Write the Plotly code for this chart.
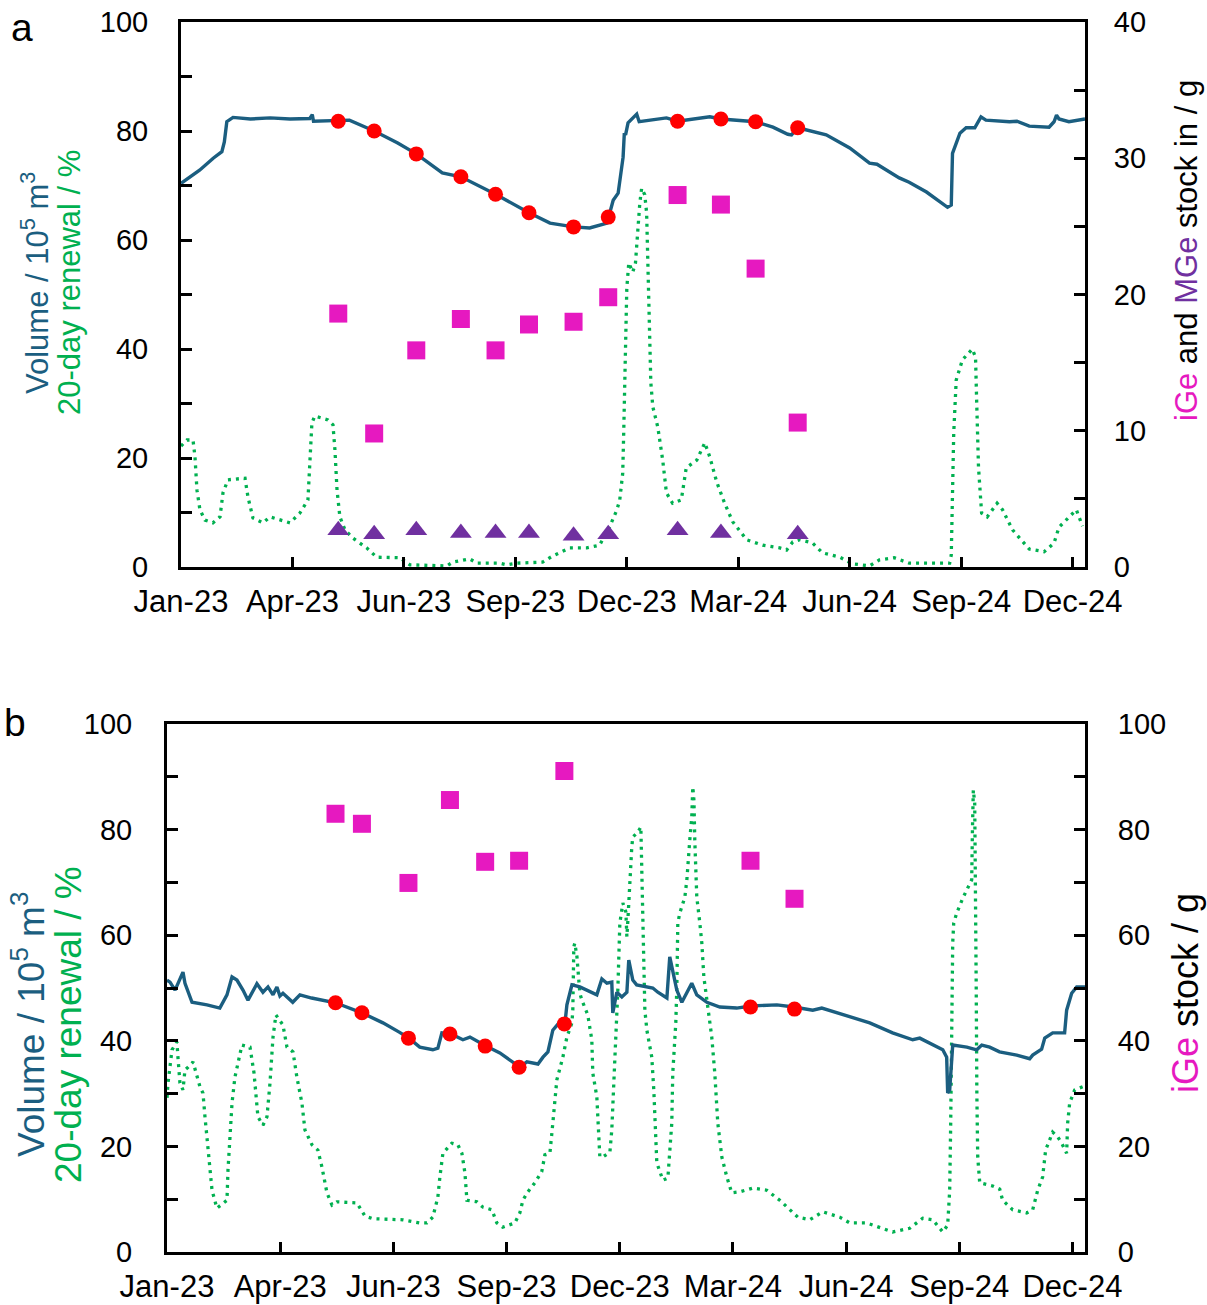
import pandas as pd
import plotly.graph_objects as go

W, H = 1207, 1305
ORIGIN = pd.Timestamp("2023-01-01")
FONT = "Liberation Sans, Arial, sans-serif"

C_VOL = "#1B5E80"
C_REN = "#00B050"
C_RED = "#FF0000"
C_IGE = "#E619C0"
C_MGE = "#7030A0"

# x-axis ticks (every 90 days from 1 Jan 2023)
TICK_DATES = ["2023-01-01", "2023-04-01", "2023-06-30", "2023-09-28", "2023-12-27",
              "2024-03-26", "2024-06-24", "2024-09-22", "2024-12-21"]
TICK_TEXT = ["Jan-23", "Apr-23", "Jun-23", "Sep-23", "Dec-23",
             "Mar-24", "Jun-24", "Sep-24", "Dec-24"]

# ---------------- panel a ----------------
# daily volume record (days since 1 Jan 2023, 10^5 m^3)
A_VOL_DAY = [0, 15, 26, 33, 35, 37, 42, 56, 72, 88, 104, 106, 107, 123, 127.5, 136,
             156, 175, 190, 211, 226, 239, 254, 281, 298, 317, 330, 344, 349, 353,
             355, 357, 358, 359, 361, 365, 368, 370, 381, 392, 401, 419, 427, 436,
             464, 478, 490, 493, 498, 521, 540, 556, 562, 580, 588, 602, 619, 622,
             623, 629, 634, 641, 646, 650, 669, 675, 685, 701, 705, 707, 709, 717, 730]
A_VOL = [70.4, 72.8, 75.0, 76.2, 78.0, 81.7, 82.5, 82.2, 82.4, 82.2, 82.3, 83.0, 81.8,
         81.9, 81.8, 82.0, 80.0, 77.8, 75.8, 72.3, 71.6, 70.1, 68.4, 65.0, 63.1, 62.4,
         62.2, 63.1, 67.3, 68.6, 71.6, 75.2, 79.6, 79.3, 81.5, 82.4, 83.1, 81.7, 82.0,
         82.4, 81.8, 82.4, 82.6, 82.2, 81.7, 80.7, 79.4, 79.3, 80.6, 79.3, 76.9, 74.1,
         73.9, 71.4, 70.6, 68.8, 66.0, 66.4, 75.9, 79.6, 80.6, 80.6, 82.6, 82.0, 81.7,
         81.8, 80.9, 80.7, 81.7, 82.9, 82.2, 81.7, 82.2]

# 20-day renewal (%)
A_REN_DAY = [0, 4.8, 9.7, 11.3, 12.9, 15.3, 19.4, 25.8, 31.5, 33.9, 37.9, 51.7, 54.1,
             58.1, 66.2, 71.8, 88, 96, 102.5, 104, 105.7, 108, 118.6, 122.7, 124.3, 126,
             128.3, 132.4, 138.8, 150, 158, 176.8, 184.8, 214.7, 219.5, 233, 239, 257.5,
             263, 271, 292, 300, 314, 327.7, 338, 346, 352, 354.3, 356.7, 357.5, 358.4,
             359, 360, 361.6, 364.8, 367, 368.8, 370.5, 372, 374.5, 376, 377, 377.7,
             379.4, 381, 385, 389, 392, 397, 404, 408, 416.5, 423, 427, 432.6, 439,
             445.5, 456.8, 469.7, 483.5, 489, 494, 499.6, 510, 518, 532, 542, 556, 564,
             576, 588, 620.7, 622, 623, 624, 626, 631, 639, 641.6, 642.5, 644, 646.5,
             651, 659, 663.4, 671.5, 685, 697, 705, 709, 715, 723, 728]
A_REN = [22.2, 23.3, 23.3, 20.2, 14.1, 10.5, 8.6, 8.1, 9.2, 13.6, 16.0, 16.3, 12.8,
         9.0, 8.1, 9.2, 8.1, 9.9, 12.3, 19.6, 26.4, 27.7, 27.0, 26.1, 21.5, 14.1,
         9.2, 6.8, 5.3, 3.5, 1.8, 1.7, 0.4, 0.2, 0.9, 1.5, 0.7, 0.7,
         0.4, 0.7, 0.9, 2.0, 3.5, 3.5, 4.0, 7.3, 10.5, 12.3, 17.2, 24.6, 36.7,
         46.6, 51.2, 55.8, 54.1, 55.8, 62.4, 66.8, 69.5, 68.3, 65.0, 55.0, 45.3,
         33.8, 29.4, 25.7, 19.6, 13.6, 11.7, 12.3, 18.2, 19.6, 22.8, 20.2, 15.6, 11.7,
         8.3, 5.0, 4.0, 3.5, 3.1, 4.6, 5.0, 4.4, 2.6, 1.8, 0.6, 0.2, 1.3,
         1.7, 0.7, 0.7, 2.2, 12.3, 24.6, 34.3, 38.0, 40.0, 38.5, 30.6, 18.3, 9.9,
         9.2, 11.7, 10.5, 6.8, 3.3, 2.8, 4.4, 7.3, 8.6, 10.5, 7.5]

# sampling campaign
A_SAMPLE_DATES = ["2023-05-08", "2023-06-06", "2023-07-10", "2023-08-15", "2023-09-12",
                  "2023-10-09", "2023-11-14", "2023-12-12", "2024-02-06", "2024-03-12",
                  "2024-04-09", "2024-05-13"]
A_SAMPLE_VOL = [81.8, 80.0, 75.8, 71.6, 68.4, 65.0, 62.4, 64.2, 81.8, 82.2, 81.7, 80.6]
A_IGE = [18.6, 9.8, 15.9, 18.2, 15.9, 17.8, 18.0, 19.8, 27.3, 26.6, 21.9, 10.6]
A_MGE = [2.7, 2.4, 2.7, 2.5, 2.5, 2.5, 2.3, 2.4, 2.7, 2.5, None, 2.4]

# ---------------- panel b ----------------
B_VOL_DAY = [0, 2.4, 6.4, 10.3, 12.7, 14.3, 19.9, 31.8, 42, 47.7, 51.7, 55.6, 60.4, 64.4,
             71.5, 76.3, 80.3, 84.3, 87.4, 89.8, 92.2, 100, 105.7, 115, 124, 134, 155,
             171.7, 185, 192.4, 201, 211.4, 215.4, 218.6, 225.8, 235.3, 240.9, 253.6,
             264.7, 280.6, 286.2, 295, 299, 302.9, 306.8, 312.4, 316.4, 318, 322, 328.3,
             341.8, 345.8, 349.8, 353.7, 354.5, 357.7, 361.7, 365.7, 367.2, 370.4, 373.5,
             386.3, 390.3, 397.5, 399.8, 405.4, 409.4, 417.3, 421.3, 429.3, 439.6, 453,
             464.2, 477, 485, 498.4, 513.5, 520.7, 535, 545.3, 558.8, 577, 588.2, 593,
             598.6, 616.9, 620, 620.8, 622.4, 624, 624.8, 636, 643.9, 647.9, 654.2, 662,
             675.7, 686, 688.4, 695.5, 698, 704.3, 713.8, 715.4, 719.4, 723.4, 730]
B_VOL = [51.5, 51.1, 49.6, 51.5, 53.0, 50.9, 47.3, 46.8, 46.2, 48.7, 52.1, 51.5, 49.6, 47.7,
         50.8, 49.2, 50.2, 48.7, 50.2, 48.5, 49.0, 47.3, 48.7, 48.1, 47.7, 47.2, 45.3,
         43.4, 41.6, 40.5, 38.8, 38.3, 38.6, 41.5, 41.3, 40.2, 40.7, 39.0,
         37.7, 35.0, 36.0, 35.6, 36.9, 37.9, 42.0, 43.6, 43.2, 46.8, 50.6, 50.2,
         48.7, 51.7, 50.9, 51.1, 45.3, 49.2, 48.3, 49.2, 55.3, 51.5, 50.6,
         50.0, 49.2, 48.1, 55.9, 49.6, 47.3, 50.9, 48.7, 47.3, 46.4, 46.2,
         46.6, 46.8, 46.8, 46.4, 45.8, 46.2, 45.1, 44.3, 43.4, 41.5, 40.7, 40.2,
         40.5, 38.3, 36.9, 30.1, 30.7, 38.3, 39.2, 38.8, 38.3, 39.2, 38.8, 37.9,
         37.3, 36.6, 37.3, 38.4, 40.5, 41.5, 41.5, 45.8, 49.0, 50.2, 50.2]

B_REN_DAY = [0, 0.8, 4, 7.9, 8.7, 10.3, 12.7, 14.3, 16.7, 20.7, 26.2, 28.6, 30.2, 32.6,
             35.8, 39.7, 47.7, 48.5, 51.7, 54, 59.6, 66, 69.2, 72.3, 76.3, 79.5, 81.9,
             84.3, 86.6, 92.2, 95.4, 100.2, 103.3, 107.3, 109.7, 115.3, 120, 123.2,
             127.2, 131.2, 135.1, 151, 157.4, 163.8, 182.8, 187.6, 201, 206.7, 211.4,
             215.4, 217, 219.4, 226.5, 231.3, 234.5, 236.9, 238.5, 246.4, 251.2, 258.3,
             262.3, 267, 276.6, 280.6, 283, 287, 292.5, 298, 300.5, 304.5, 306.8, 310,
             314.8, 318, 322, 322.7, 323.5, 324.3, 326, 328.3, 329.9, 334.6, 337.8,
             338.6, 341.8, 343.4, 344.2, 346.6, 352.2, 353.7, 356.1, 357.7, 358.5,
             360.1, 361.7, 362.5, 364.9, 365.7, 366.5, 368, 369.6, 370.4, 374.4, 376.8,
             377.6, 378.4, 379.2, 380, 381.6, 385.5, 387.1, 387.9, 389.5, 394.3, 398.3,
             401.4, 402.2, 404.6, 405.4, 406.2, 407.8, 411.8, 413.4, 415.7, 417.3,
             418.1, 419, 419.7, 421.3, 423.7, 425.3, 426.9, 429.3, 431.6, 433.2, 435.6,
             438, 441.2, 445.2, 449.1, 455.5, 465.8, 476.9, 487.3, 495.2, 501.6, 511.1,
             521.5, 535, 543, 556.4, 566.8, 577.1, 590.6, 596.2, 601, 608.9, 616.9,
             620.8, 622.4, 623.2, 624, 624.8, 625.6, 628, 632.8, 636.7, 639.9, 640.5,
             641.2, 642.3, 643, 643.5, 644, 644.7, 646.3, 656.6, 662.2, 664.5, 672.5,
             683.6, 688.4, 692.4, 696.3, 698.7, 704.3, 708.3, 711.5, 715.4, 716.2,
             717.8, 721.8, 728.2]
B_REN = [29.2, 32.0, 38.3, 39.8, 36.9, 32.0, 30.7, 34.5, 35.0, 36.0, 31.3, 30.1, 25.6, 19.3,
         11.7, 8.3, 9.8, 15.5, 28.2, 33.1, 39.2, 38.8, 33.9, 25.6, 24.0, 25.6, 32.0,
         40.7, 44.9, 43.0, 38.8, 37.9, 33.1, 28.2, 23.1, 20.3, 19.3, 16.1,
         11.2, 8.9, 9.5, 9.3, 6.8, 6.3, 6.1, 6.1, 5.5, 5.5, 6.6,
         10.4, 14.2, 18.7, 20.6, 20.3, 18.7, 15.0, 9.8, 9.5, 8.5, 8.0,
         5.5, 4.7, 5.5, 7.4, 9.8, 11.4, 13.1, 15.2, 18.4, 18.7, 24.4, 32.6,
         36.9, 40.7, 43.4, 45.8, 57.8, 58.5, 55.9, 49.0, 47.7, 44.9, 40.2,
         33.9, 29.4, 23.1, 18.0, 18.0, 18.9, 23.1, 36.9, 44.5, 49.6,
         62.3, 64.4, 66.1, 64.4, 59.7, 62.9, 70.5, 76.7, 78.6, 79.5, 80.5,
         71.8, 62.3, 50.9, 45.8, 42.0, 36.9, 30.7, 24.4, 16.9, 13.6, 14.0,
         24.4, 33.9, 43.4, 50.0, 62.3, 64.2, 67.2, 70.5, 78.0, 82.4,
         88.1, 85.6, 78.0, 67.2, 62.3, 58.5, 52.1, 47.7, 44.5, 40.7, 33.9,
         24.4, 18.0, 14.2, 11.2, 11.4, 12.1, 11.7, 9.8, 8.0, 6.6, 6.1,
         7.6, 6.6, 5.5, 5.5, 4.7, 3.8, 4.5, 5.5, 6.4, 6.1, 3.8,
         5.1, 11.7, 24.4, 43.4, 58.5, 62.3, 64.2, 67.0, 69.1, 70.5, 80.0,
         87.5, 85.0, 70.0, 50.0, 30.0, 18.0, 13.1, 12.5, 11.9, 9.8, 8.0,
         7.4, 8.0, 11.7, 14.2, 19.3, 22.7, 21.8, 20.6, 18.7, 24.4,
         28.2, 30.7, 31.3]

B_SAMPLE_DATES = ["2023-05-15", "2023-06-05", "2023-07-12", "2023-08-14", "2023-09-11",
                  "2023-10-08", "2023-11-13", "2024-04-09", "2024-05-14"]
B_SAMPLE_VOL = [47.2, 45.3, 40.5, 41.3, 39.0, 35.0, 43.2, 46.4, 46.0]
B_IGE = [83.0, 81.1, 69.9, 85.6, 73.9, 74.1, 91.1, 74.1, 66.9]


def to_dates(days):
    return ORIGIN + pd.to_timedelta(days, unit="D")


fig = go.Figure()

ren_line = dict(color=C_REN, width=3.3, dash="3px,5px")
vol_line = dict(color=C_VOL, width=3.4)

# panel a traces
fig.add_trace(go.Scatter(x=to_dates(A_REN_DAY), y=A_REN, mode="lines", line=ren_line,
                         xaxis="x", yaxis="y"))
fig.add_trace(go.Scatter(x=to_dates(A_VOL_DAY), y=A_VOL, mode="lines", line=vol_line,
                         xaxis="x", yaxis="y"))
fig.add_trace(go.Scatter(x=A_SAMPLE_DATES, y=A_SAMPLE_VOL, mode="markers",
                         marker=dict(symbol="circle", size=15, color=C_RED),
                         xaxis="x", yaxis="y"))
fig.add_trace(go.Scatter(x=A_SAMPLE_DATES, y=A_IGE, mode="markers",
                         marker=dict(symbol="square", size=18, color=C_IGE),
                         xaxis="x", yaxis="y2"))
fig.add_trace(go.Scatter(x=A_SAMPLE_DATES, y=A_MGE, mode="markers",
                         marker=dict(symbol="triangle-up", size=19, color=C_MGE),
                         xaxis="x", yaxis="y2"))

# panel b traces
fig.add_trace(go.Scatter(x=to_dates(B_REN_DAY), y=B_REN, mode="lines", line=ren_line,
                         xaxis="x2", yaxis="y3"))
fig.add_trace(go.Scatter(x=to_dates(B_VOL_DAY), y=B_VOL, mode="lines", line=vol_line,
                         xaxis="x2", yaxis="y3"))
fig.add_trace(go.Scatter(x=B_SAMPLE_DATES, y=B_SAMPLE_VOL, mode="markers",
                         marker=dict(symbol="circle", size=15, color=C_RED),
                         xaxis="x2", yaxis="y3"))
fig.add_trace(go.Scatter(x=B_SAMPLE_DATES, y=B_IGE, mode="markers",
                         marker=dict(symbol="square", size=18, color=C_IGE),
                         xaxis="x2", yaxis="y4"))


def px_x(px):
    return px / W


def px_y(py):
    return 1 - py / H


common = dict(showline=True, linewidth=3, linecolor="black", showgrid=False,
              zeroline=False, ticks="inside", tickwidth=3, tickcolor="black",
              automargin=False,
              tickfont=dict(family=FONT, size=29, color="black"))


def xaxis(domain, anchor):
    return dict(common, domain=domain, anchor=anchor, type="date",
                range=["2023-01-01", "2024-12-31"], tickvals=TICK_DATES,
                ticktext=TICK_TEXT, ticklen=10, mirror=True,
                tickfont=dict(family=FONT, size=31, color="black"),
                ticklabelstandoff=5)


def yaxis(domain, anchor, rng, dtick, side="left", overlaying=None, standoff=24):
    d = dict(common, domain=domain, anchor=anchor, range=rng, tick0=0, dtick=dtick,
             ticklen=11, side=side,
             minor=dict(dtick=dtick / 2, tick0=0, ticks="inside", ticklen=11,
                        tickwidth=3, tickcolor="black", showgrid=False),
             ticklabelstandoff=standoff)
    if overlaying:
        d["overlaying"] = overlaying
    return d


ya = [px_y(567), px_y(22)]
yb = [px_y(1252), px_y(724)]

fig.update_layout(
    template="none",
    width=W, height=H,
    margin=dict(l=0, r=0, t=0, b=0, autoexpand=False),
    paper_bgcolor="white", plot_bgcolor="white",
    showlegend=False,
    font=dict(family=FONT, color="black"),
    xaxis=xaxis([px_x(181), px_x(1085)], "y"),
    yaxis=yaxis(ya, "x", [0, 100], 20),
    yaxis2=yaxis(ya, "x", [0, 40], 10, side="right", overlaying="y", standoff=20),
    xaxis2=xaxis([px_x(167), px_x(1085)], "y3"),
    yaxis3=yaxis(yb, "x2", [0, 100], 20, standoff=26),
    yaxis4=yaxis(yb, "x2", [0, 100], 20, side="right", overlaying="y3"),
)


def vlabel(text, x, y, size):
    fig.add_annotation(text=text, x=px_x(x), y=px_y(y), xref="paper", yref="paper",
                       textangle=-90, showarrow=False, xanchor="center",
                       yanchor="middle", font=dict(family=FONT, size=size))


vol_title = f"<span style='color:{C_VOL}'>Volume / 10<sup>5</sup> m<sup>3</sup></span>"
ren_title = f"<span style='color:{C_REN}'>20-day renewal / %</span>"

vlabel(vol_title, 35, 283, 31)
vlabel(ren_title, 70, 283, 31)
vlabel(f"<span style='color:{C_IGE}'>iGe</span> and "
       f"<span style='color:{C_MGE}'>MGe</span> stock in / g", 1186, 251, 31)

vlabel(vol_title, 28, 1025, 37)
vlabel(ren_title, 68, 1025, 37)
vlabel(f"<span style='color:{C_IGE}'>iGe</span> stock / g", 1185, 993, 36)

for letter, x, y in [("a", 22, 28), ("b", 15, 722)]:
    fig.add_annotation(text=letter, x=px_x(x), y=px_y(y), xref="paper", yref="paper",
                       showarrow=False, xanchor="center", yanchor="middle",
                       font=dict(family=FONT, size=39, color="black"))

fig.write_html("out.html")
